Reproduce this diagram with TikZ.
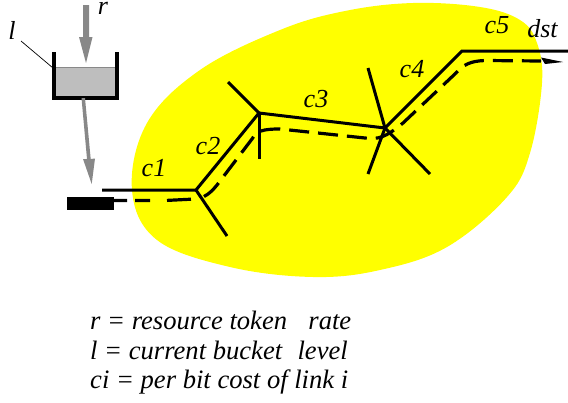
\documentclass[tikz,border=0pt]{standalone}
\usepackage{fontspec}
\setmainfont{Liberation Serif}
\definecolor{arrgray}{RGB}{136,136,136}
\definecolor{water}{RGB}{190,190,190}
\definecolor{blob}{RGB}{255,255,0}
\tikzset{
  lbl/.style={font=\fontsize{26}{28}\selectfont\itshape,inner sep=0pt,anchor=base},
  legend/.style={font=\fontsize{26.6}{28}\selectfont\itshape,inner sep=0pt,anchor=base west},
  link/.style={line width=3pt,line join=miter},
  spur/.style={line width=3pt},
  route/.style={line width=3.2pt,dash pattern=on 20pt off 9pt},
  routeh/.style={line width=3.2pt,dash pattern=on 13pt off 8pt on 15pt off 17pt on 24pt off 100pt},
}
\begin{document}
\begin{tikzpicture}[x=1pt,y=-1pt]
\useasboundingbox (0,0) rectangle (568,402);
\fill[blob] plot[smooth cycle,tension=0.62] coordinates {(132,190) (147,123) (200,70) (280,30) (345,11) (413,3) (480,7) (520,20) (537,43) (542,83) (530,153) (507,197) (447,247) (380,270) (313,277) (230,267) (157,240)};
% bucket
\fill[water] (54,67) rectangle (117,97);
\draw[arrgray,line width=1pt] (54,67) -- (117,67);
\draw[black,line width=3.6pt,line join=miter] (54,52) -- (54,98) -- (117,98) -- (117,52);
\coordinate (lt) at (21,41);
\coordinate (lh) at (53,68);
\draw[line width=0.7pt] (lt) -- (lh);
% gray arrows
\fill[arrgray] (83,5) -- (89,5) -- (89,37) -- (92.5,37) -- (86,63) -- (79,37) -- (83,37) -- cycle;
\fill[arrgray] (81.5,98) -- (85,98) -- (90.7,159) -- (95,158.5) -- (91.7,184) -- (83,159) -- (87,159) -- cycle;
% source
\node[fill=black,minimum width=47pt,minimum height=13pt,inner sep=0pt] (src) at (90.5,203.5) {};
% links
\coordinate (a) at (196,190);
\coordinate (b) at (259,113);
\coordinate (c) at (385,128);
\coordinate (d) at (462,51);
\coordinate (s) at (102,190);
\coordinate (e) at (568,51);
\draw[link] (s) -- (a) -- (b) -- (c) -- (d) -- (e);
\coordinate (a1) at (227,236);
\coordinate (b1) at (228,82);
\coordinate (b2) at (259,159);
\coordinate (c1) at (368,68);
\coordinate (c2) at (368,174);
\coordinate (c3) at (430,174);
\draw[spur] (a) -- (a1);
\draw[spur] (b) -- (b1);
\draw[spur] (b) -- (b2);
\draw[spur] (c) -- (c1);
\draw[spur] (c) -- (c2);
\draw[spur] (c) -- (c3);
% route
\draw[routeh] (114,200.5) -- (165,200.5) -- (195,199);
\draw[route] (204,196.5) .. controls (209,194) and (213,190) .. (217,185) -- (252,139) .. controls (257,131) and (262,129) .. (280,129) -- (365,138) .. controls (378,139.5) and (385,138) .. (403,123) -- (456,73) .. controls (463,65) and (470,61) .. (485,60.5) -- (541,61);
\fill (541,57.5) -- (563,62) -- (545,64) -- cycle;
% labels
\node[lbl] (lr) at (103,14) {r};
\node[lbl] (ll) at (12,39) {l};
\node[lbl] (l1) at (154,176) {c1};
\node[lbl] (l2) at (208,154) {c2};
\node[lbl] (l3) at (316,107) {c3};
\node[lbl] (l4) at (412,77) {c4};
\node[lbl] (l5) at (497,33) {c5};
\node[lbl] (l6) at (542.5,37) {dst};
\node[legend] (t1) at (90,329) {r = resource token\ \hspace{8pt}\ rate};
\node[legend] (t2) at (90,359) {l = current bucket\ \hspace{2pt}\ level};
\node[legend] (t3) at (90,388) {ci = per bit cost of link i};
\end{tikzpicture}
\end{document}
